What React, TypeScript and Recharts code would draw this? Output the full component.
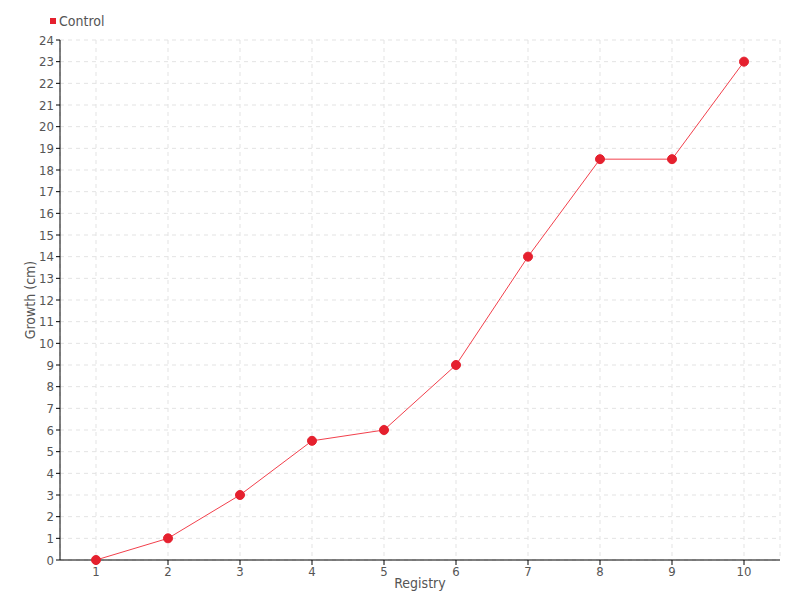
import React from 'react';
import { LineChart, Line, XAxis, YAxis, CartesianGrid, Label } from 'recharts';

const categories = ['1', '2', '3', '4', '5', '6', '7', '8', '9', '10'];
const controlValues = [0, 1, 3, 5.5, 6, 9, 14, 18.5, 18.5, 23];
const yTicks = [0, 1, 2, 3, 4, 5, 6, 7, 8, 9, 10, 11, 12, 13, 14, 15, 16, 17, 18, 19, 20, 21, 22, 23, 24];
const seriesName = 'Control';

const data = categories.map((c, i) => ({ name: c, Control: controlValues[i] }));

const FONT = '"DejaVu Sans", sans-serif';
const TEXT = '#555555';
const RED = '#e5202e';
const tickStyle = { fill: TEXT, fontSize: 13, fontFamily: FONT, fontStretch: 'condensed' as const };

export default function App() {
  return (
    <div style={{ position: 'absolute', left: 0, top: 0, width: 800, height: 600, background: '#fff' }}>
      <div style={{ position: 'absolute', left: 50, top: 13, display: 'flex', alignItems: 'center', fontFamily: FONT, fontStretch: 'condensed', fontSize: 14, color: TEXT }}>
        <span style={{ display: 'inline-block', width: 6, height: 6, background: RED, marginRight: 3 }} />
        <span>{seriesName}</span>
      </div>
      <LineChart width={800} height={600} data={data} margin={{ top: 40, right: 20, bottom: 0, left: 0 }}>
        <CartesianGrid stroke="#e3e3e3" strokeDasharray="4 4" />
        <XAxis
          dataKey="name"
          height={40}
          stroke="#000"
          tickSize={5}
          padding={{ left: 36, right: 36 }}
          tick={tickStyle}
          interval={0}
        >
          <Label value="Registry" position="insideBottom" offset={12} style={{ fill: TEXT, fontSize: 14, fontFamily: FONT, fontStretch: 'condensed' }} />
        </XAxis>
        <YAxis
          width={60}
          domain={[0, 24]}
          ticks={yTicks}
          interval={0}
          stroke="#000"
          tickSize={4}
          tick={tickStyle}
        >
          <Label value="Growth (cm)" angle={-90} position="insideLeft" offset={30} style={{ fill: TEXT, fontSize: 14, fontFamily: FONT, fontStretch: 'condensed', textAnchor: 'middle' }} />
        </YAxis>
        <Line
          type="linear"
          dataKey="Control"
          name={seriesName}
          stroke="#f2404c"
          strokeWidth={1}
          dot={{ r: 4.5, fill: RED, stroke: RED, strokeWidth: 1 }}
          isAnimationActive={false}
        />
      </LineChart>
    </div>
  );
}
